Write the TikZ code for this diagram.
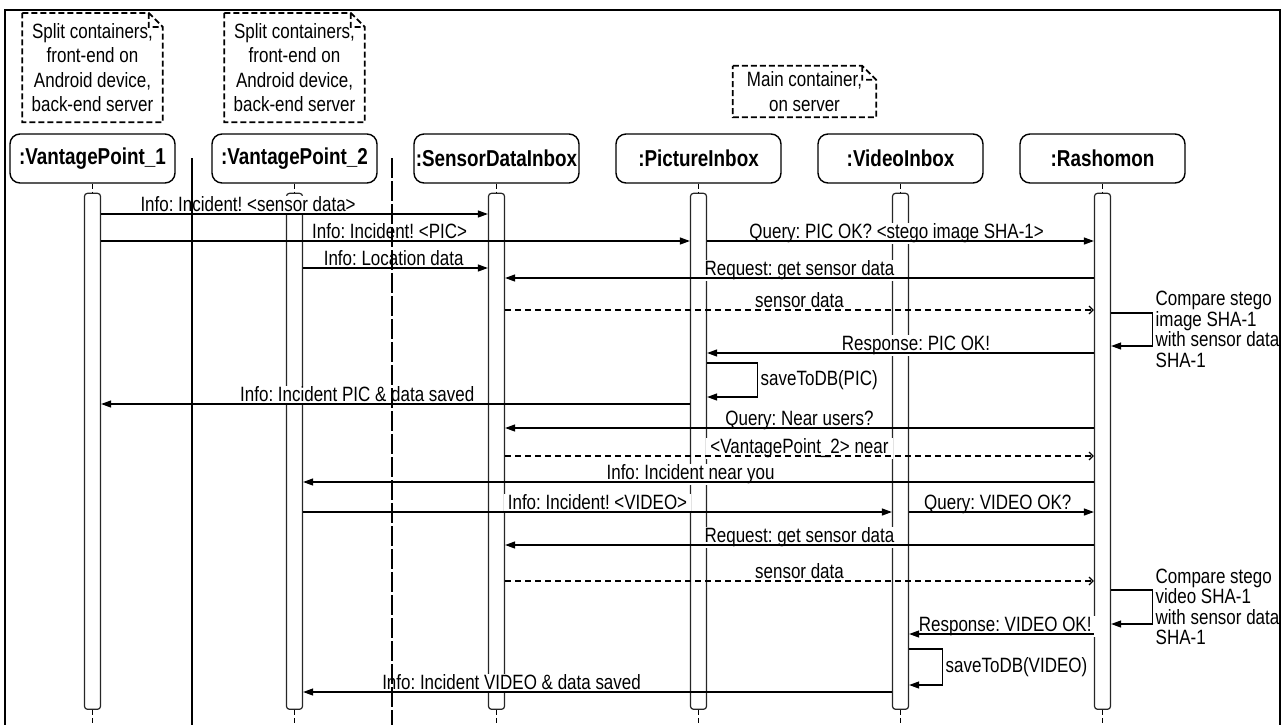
\documentclass[tikz,border=0pt]{standalone}
\usepackage{fontspec}
\setmainfont{Liberation Sans}[FakeStretch=0.82]
\frenchspacing
\usetikzlibrary{
  arrows.meta,
  positioning,
}
\tikzset{
  head/.style={
    rectangle,
    rounded corners=10pt,
    minimum width=165pt,
    minimum height=49pt,
    inner xsep=1pt,
    text centered,
    draw=black,
    line width=1.4pt,
    font=\fontsize{23}{26}\selectfont\bfseries
  },
  bar/.style={
    rectangle,
    rounded corners=3pt,
    minimum width=16pt,
    minimum height=516pt,
    inner sep=0pt,
    draw=black!85,
    line width=1.2pt,
    fill=white
  },
  note/.style={
    rectangle,
    align=center,
    inner sep=0pt,
    font=\fontsize{20.7}{24.3}\selectfont
  },
  notefold/.style={
    line width=1.8pt,
    dash pattern=on 6pt off 3pt
  },
  life/.style={
    line width=1.5pt,
    dash pattern=on 5pt off 3pt
  },
  lane/.style={
    line width=1.8pt
  },
  msg/.style={
    line width=1.2pt,
    -{Triangle[length=10pt,width=7pt]}
  },
  ret/.style={
    line width=1.2pt,
    dash pattern=on 6pt off 4pt,
    -{Straight Barb[length=4pt,width=8pt]}
  },
  lbl/.style={
    anchor=base,
    yshift=2.5pt,
    fill=white,
    inner xsep=4pt,
    inner ysep=1pt,
    behind path,
    font=\fontsize{20.7}{20.5}\selectfont
  },
  remark/.style={
    right,
    align=left,
    inner sep=3pt,
    font=\fontsize{20.7}{20.5}\selectfont
  },
}

\begin{document}
\begin{tikzpicture}[
    x=1pt, y=-1pt,
    node distance=35.6pt,
  ]
  \useasboundingbox (0,0) rectangle (1282,724);

  % Frame
  \draw[line width=1.8pt] (5,740) -- (5,10) -- (1280,10) -- (1280,740);

  % Lifeline heads
  \node (vp1) [head] at (92.5,158.5) {:VantagePoint\_1};
  \node (vp2) [head, right=of vp1] {:VantagePoint\_2};
  \node (sdi) [head, right=of vp2] {:SensorDataInbox};
  \node (pic) [head, right=of sdi] {:PictureInbox};
  \node (vid) [head, right=of pic] {:VideoInbox};
  \node (rash) [head, right=of vid] {:Rashomon};

  % Notes
  \node (vp1_note) [note, minimum width=140pt, minimum height=109pt, above=11pt of vp1]
    {Split containers,\\front-end on\\Android device,\\back-end server};
  \node (vp2_note) [note, minimum width=140pt, minimum height=109pt, above=11pt of vp2]
    {Split containers,\\front-end on\\Android device,\\back-end server};
  \node (main_note) [note, minimum width=143pt, minimum height=51pt] at (804.5,91.5)
    {Main container,\\on server};
  \foreach \n in {vp1_note,vp2_note,main_note}
    \draw[notefold] (\n.north west) -- ([xshift=-14pt]\n.north east)
      -- ([yshift=-14pt]\n.north east) -- (\n.south east) -- (\n.south west) -- cycle
      ([xshift=-14pt]\n.north east) -- ([xshift=-14pt,yshift=-14pt]\n.north east)
      -- ([yshift=-14pt]\n.north east);

  % Activation bars and lifelines
  \foreach \n in {vp1,vp2,sdi,pic,vid,rash} {
    \node (\n_bar) [bar, below=9pt of \n] {};
    \draw[life] (\n.south) -- (\n_bar.north);
    \draw[life] (\n_bar.south) -- ++(0,20);
  }

  % Message levels
  \foreach \y [count=\i] in {214,241,268,278,310,313,346,353,363,397,404,428,
      456,482,512,545,581,590,624,634,649,685,692}
    \coordinate (m\i) at (0,\y);

  % Picture incident
  \draw[msg] (vp1_bar.east |- m1) -- node[lbl, pos=0.38] {Info: Incident! <sensor data>} (sdi_bar.west |- m1);
  \draw[msg] (vp1_bar.east |- m2) -- node[lbl, pos=0.49] {Info: Incident! <PIC>} (pic_bar.west |- m2);
  \draw[msg] (pic_bar.east |- m2) -- node[lbl, pos=0.49] {Query: PIC OK? <stego image SHA-1>} (rash_bar.west |- m2);
  \draw[msg] (vp2_bar.east |- m3) -- node[lbl, pos=0.49] {Info: Location data} (sdi_bar.west |- m3);
  \draw[msg] (rash_bar.west |- m4) -- node[lbl] {Request: get sensor data} (sdi_bar.east |- m4);
  \draw[ret] (sdi_bar.east |- m5) -- node[lbl] {sensor data} (rash_bar.west |- m5);
  \draw[msg] (rash_bar.east |- m6) -- ++(41,0)
    -- node[remark] {Compare stego\\image SHA-1\\with sensor data\\SHA-1} ++(0,33)
    -- (rash_bar.east |- m7);
  \draw[msg] (rash_bar.west |- m8) -- node[lbl, pos=0.46] {Response: PIC OK!} (pic_bar.east |- m8);
  \draw[msg] (pic_bar.east |- m9) -- ++(50,0) -- node[remark] {saveToDB(PIC)} ++(0,34)
    -- (pic_bar.east |- m10);
  \draw[msg] (pic_bar.west |- m11) -- node[lbl, pos=0.565] {Info: Incident PIC \& data saved} (vp1_bar.east |- m11);

  % Near users
  \draw[msg] (rash_bar.west |- m12) -- node[lbl] {Query: Near users?} (sdi_bar.east |- m12);
  \draw[ret] (sdi_bar.east |- m13) -- node[lbl] {<VantagePoint\_2> near} (rash_bar.west |- m13);
  \draw[msg] (rash_bar.west |- m14) -- node[lbl, pos=0.51] {Info: Incident near you} (vp2_bar.east |- m14);

  % Video incident
  \draw[msg] (vp2_bar.east |- m15) -- node[lbl] {Info: Incident! <VIDEO>} (vid_bar.west |- m15);
  \draw[msg] (vid_bar.east |- m15) -- node[lbl, pos=0.48] {Query: VIDEO OK?} (rash_bar.west |- m15);
  \draw[msg] (rash_bar.west |- m16) -- node[lbl] {Request: get sensor data} (sdi_bar.east |- m16);
  \draw[ret] (sdi_bar.east |- m17) -- node[lbl] {sensor data} (rash_bar.west |- m17);
  \draw[msg] (rash_bar.east |- m18) -- ++(41,0)
    -- node[remark] {Compare stego\\video SHA-1\\with sensor data\\SHA-1} ++(0,34)
    -- (rash_bar.east |- m19);
  \draw[msg] (rash_bar.west |- m20) -- node[lbl, pos=0.48] {Response: VIDEO OK!} (vid_bar.east |- m20);
  \draw[msg] (vid_bar.east |- m21) -- ++(33,0) -- node[remark] {saveToDB(VIDEO)} ++(0,36)
    -- (vid_bar.east |- m22);
  \draw[msg] (vid_bar.west |- m23) -- node[lbl, pos=0.646] {Info: Incident VIDEO \& data saved} (vp2_bar.east |- m23);

  % Swimlane separators
  \coordinate (lane_a) at (192,158);
  \coordinate (lane_b) at (392,158);
  \draw[lane] (lane_a) -- ++(0,590);
  \draw[lane, dash pattern=on 20pt off 3pt] (lane_b) -- ++(0,590);

\end{tikzpicture}
\end{document}
